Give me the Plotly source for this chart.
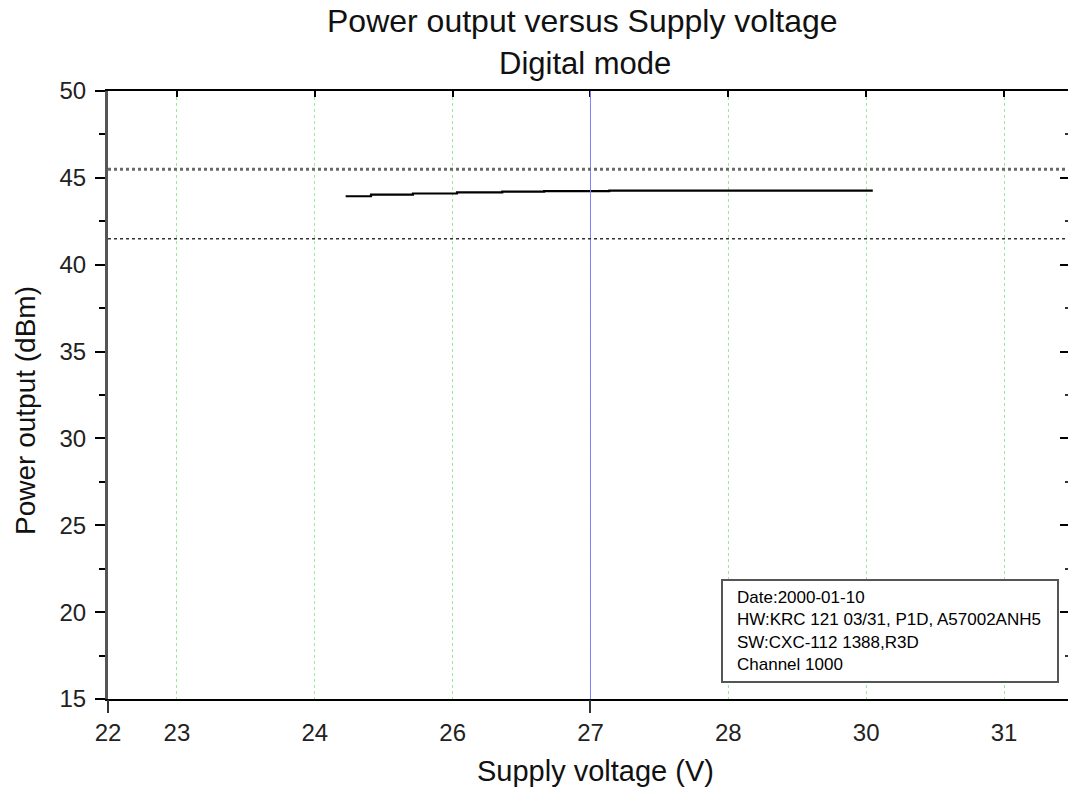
import plotly.graph_objects as go

# ---- data ----
VOLTAGE = [24.78, 25.01, 25.39, 25.79, 26.20, 26.58, 27.17, 29.56]
POWER = [43.94, 44.04, 44.10, 44.17, 44.21, 44.24, 44.27, 44.27]
UPPER_LIMIT = 45.5
LOWER_LIMIT = 41.5
REF_VOLTAGE = 27.0

X_MIN, X_MAX = 22.625, 31.33
Y_MIN, Y_MAX = 15, 50
X_TICK_VALS = [22.625, 23.25, 24.5, 25.75, 27.0, 28.25, 29.5, 30.75]
X_TICK_TEXT = ["22", "23", "24", "26", "27", "28", "30", "31"]
GRID_VALS = [23.25, 24.5, 25.75, 28.25, 29.5, 30.75]
BOTTOM_TICKS = [22.625, 27.0]

INFO_LINES = [
    "Date:2000-01-10",
    "HW:KRC 121 03/31, P1D, A57002ANH5",
    "SW:CXC-112 1388,R3D",
    "Channel 1000",
]

FONT = "Arial, Liberation Sans, sans-serif"

W, H = 1068, 788
ML, MR, MT, MB = 108, 0, 91, 89
PW, PH = W - ML - MR, H - MT - MB


def px(xp):
    return (xp - ML) / PW


def py(yp):
    return (H - MB - yp) / PH


fig = go.Figure()

fig.add_trace(go.Scatter(
    x=VOLTAGE, y=POWER, mode="lines", line=dict(color="black", width=2.2, shape="hv"),
    showlegend=False, hoverinfo="skip"))
# invisible helper traces so overlay axes are drawn
fig.add_trace(go.Scatter(x=VOLTAGE, y=POWER, xaxis="x2", yaxis="y2", mode="lines",
                         line=dict(width=0), opacity=0, showlegend=False, hoverinfo="skip"))
fig.add_trace(go.Scatter(x=VOLTAGE, y=POWER, xaxis="x3", yaxis="y", mode="lines",
                         line=dict(width=0), opacity=0, showlegend=False, hoverinfo="skip"))

# reference lines
fig.add_shape(type="line", xref="x", yref="paper", x0=REF_VOLTAGE, x1=REF_VOLTAGE, y0=0, y1=1,
              line=dict(color="#8080ff", width=1), layer="above")
fig.add_shape(type="line", xref="paper", yref="y", x0=0, x1=1, y0=UPPER_LIMIT, y1=UPPER_LIMIT,
              line=dict(color="#6a6a6a", width=3, dash="dot"))
fig.add_shape(type="line", xref="paper", yref="y", x0=0, x1=1, y0=LOWER_LIMIT, y1=LOWER_LIMIT,
              line=dict(color="#333333", width=1.5, dash="dot"))

# info box
fig.add_shape(type="rect", xref="paper", yref="paper",
              x0=px(722), x1=px(1058), y0=py(682), y1=py(580),
              line=dict(color="#555555", width=2), fillcolor="white")
for i, t in enumerate(INFO_LINES):
    fig.add_annotation(text=t, xref="paper", yref="paper", x=px(735), y=py(597 + i * 22.6),
                       xanchor="left", yanchor="middle", showarrow=False,
                       font=dict(family=FONT, size=17, color="black"))

# titles
fig.add_annotation(text="Power output versus Supply voltage", xref="paper", yref="paper",
                   x=px(582), y=py(21), xanchor="center", yanchor="middle", showarrow=False,
                   font=dict(family=FONT, size=32, color="#111111"))
fig.add_annotation(text="Digital mode", xref="paper", yref="paper",
                   x=px(585), y=py(63), xanchor="center", yanchor="middle", showarrow=False,
                   font=dict(family=FONT, size=31, color="#111111"))
fig.add_annotation(text="Supply voltage (V)", xref="paper", yref="paper",
                   x=px(595), y=py(771), xanchor="center", yanchor="middle", showarrow=False,
                   font=dict(family=FONT, size=29, color="#111111"))
fig.add_annotation(text="Power output (dBm)", xref="paper", yref="paper", textangle=-90,
                   x=px(25), y=py(411), xanchor="center", yanchor="middle", showarrow=False,
                   font=dict(family=FONT, size=28, color="#111111"))

fig.update_layout(
    width=W, height=H, margin=dict(l=ML, r=MR, t=MT, b=MB, autoexpand=False),
    paper_bgcolor="white", plot_bgcolor="white",
    font=dict(family=FONT, size=24, color="#222222"),
    xaxis=dict(range=[X_MIN, X_MAX], tickmode="array", tickvals=X_TICK_VALS, ticktext=X_TICK_TEXT,
               ticks="outside", ticklen=11, tickcolor="rgba(0,0,0,0)",
               showline=True, linecolor="black", linewidth=2, mirror=False,
               showgrid=True, gridcolor="#9be89b", griddash="dot", gridwidth=1,
               zeroline=False, tickfont=dict(size=24)),
    xaxis2=dict(range=[X_MIN, X_MAX], overlaying="x", side="top", anchor="y",
                tickmode="array", tickvals=GRID_VALS + [REF_VOLTAGE], ticks="inside", ticklen=6,
                tickwidth=2, tickcolor="black", showticklabels=False,
                showline=True, linecolor="black", linewidth=2, showgrid=False, zeroline=False),
    xaxis3=dict(range=[X_MIN, X_MAX], overlaying="x", side="bottom", anchor="y",
                tickmode="array", tickvals=BOTTOM_TICKS, ticks="outside", ticklen=13,
                tickwidth=2, tickcolor="#333333", showticklabels=False,
                showline=False, showgrid=False, zeroline=False),
    yaxis=dict(range=[Y_MIN, Y_MAX], tick0=15, dtick=5, ticks="outside", ticklen=10, tickwidth=2,
               tickcolor="black", showline=True, linecolor="#555555", linewidth=3,
               showgrid=False, zeroline=False, ticklabelstandoff=4, tickfont=dict(size=24),
               minor=dict(dtick=2.5, ticks="outside", ticklen=6, tickwidth=2, tickcolor="black",
                          showgrid=False)),
    yaxis2=dict(range=[Y_MIN, Y_MAX], overlaying="y", side="right", anchor="x",
                tick0=15, dtick=5, ticks="inside", ticklen=8, tickwidth=2, tickcolor="black",
                showticklabels=False, showline=False, showgrid=False, zeroline=False,
                minor=dict(dtick=2.5, ticks="inside", ticklen=3, tickwidth=2, tickcolor="#333333")),
)

fig.write_html("out.html")
